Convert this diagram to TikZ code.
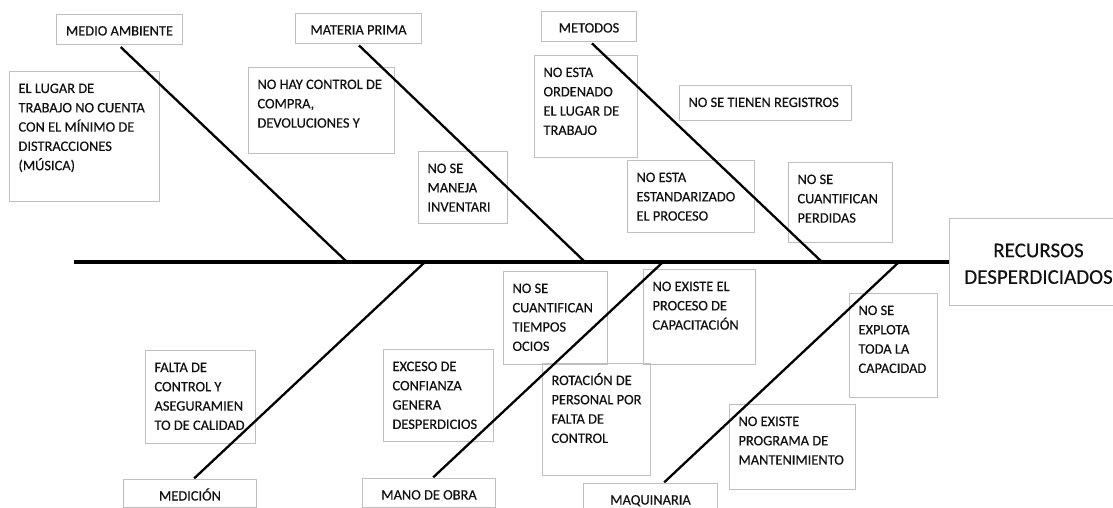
\documentclass[tikz,border=0pt]{standalone}
\usepackage{fontspec}
\setmainfont{Carlito}[FakeBold=0.35]
\definecolor{framegray}{HTML}{BFBFBF}
\definecolor{inkblack}{HTML}{111111}

% box text: about 14pt with wide line spacing
\newcommand\smallfont{\fontsize{14.4}{19.3}\selectfont}
\newcommand\bigfont{\fontsize{21}{26.6}\selectfont}

\tikzset{
  framed/.style={draw=framegray, line width=1pt, anchor=north west, inner sep=0pt, text=inkblack},
  bone/.style={line width=2.3pt, draw=black},
  spine/.style={line width=4pt, draw=black}
}

% cause box: name, x, y (top-left), width, height, text
\newcommand\causebox[6]{%
  \node[framed, font=\smallfont] (#1) at (#2,#3)
    {\parbox[t][#5pt][t]{#4pt}{\raggedright\leftskip=9pt\rule{0pt}{21.5pt}#6\par}};}
% category box: name, x, y (top-left), width, height, text
\newcommand\catbox[6]{%
  \node[framed, font=\smallfont] (#1) at (#2,#3)
    {\parbox[t][#5pt][t]{#4pt}{\centering\rule{0pt}{21pt}#6\par}};}

\begin{document}
\begin{tikzpicture}[x=1pt, y=-1pt]
\clip (0,0) rectangle (1113,508);
\fill[white] (0,0) rectangle (1113,508);

% categories
\catbox{amb}{56}{14}{126}{30}{MEDIO AMBIENTE}
\catbox{mat}{295}{13}{126}{30}{MATERIA PRIMA}
\catbox{met}{541}{11}{95}{30}{METODOS}
\catbox{med}{123}{479}{133}{28}{MEDICIÓN}
\catbox{obr}{362}{478}{133}{29}{MANO DE OBRA}
\catbox{maq}{583}{483}{134}{30}{MAQUINARIA}

% effect
\node[framed, font=\bigfont] (eff) at (949,218)
  {\parbox[t][87pt][t]{178pt}{\centering\rule{0pt}{38.7pt}RECURSOS\\DESPERDICIADOS\par}};

% causes above the spine
\causebox{c1}{9}{71}{150}{130}{EL LUGAR DE\\TRABAJO NO CUENTA\\CON EL MÍNIMO DE\\DISTRACCIONES\\(MÚSICA)}
\causebox{c2}{248}{67}{146}{86}{NO HAY CONTROL DE\\COMPRA,\\DEVOLUCIONES Y}
\causebox{c3}{418}{151}{89}{72}{NO SE\\MANEJA\\INVENTARI}
\causebox{c4}{534}{55}{103}{102}{NO ESTA\\ORDENADO\\EL LUGAR DE\\TRABAJO}
\causebox{c5}{679}{85}{172}{35}{NO SE TIENEN REGISTROS}
\causebox{c6}{627}{160}{127}{72}{NO ESTA\\ESTANDARIZADO\\EL PROCESO}
\causebox{c7}{788}{162}{104}{80}{NO SE\\CUANTIFICAN\\PERDIDAS}

% causes below the spine
\causebox{c8}{145}{350}{110}{93}{FALTA DE\\CONTROL Y\\ASEGURAMIEN\\TO DE CALIDAD}
\causebox{c9}{383}{349}{110}{92}{EXCESO DE\\CONFIANZA\\GENERA\\DESPERDICIOS}
\causebox{c10}{503}{271}{104}{93}{NO SE\\CUANTIFICAN\\TIEMPOS\\OCIOS}
\causebox{c11}{542}{363}{108}{112}{ROTACIÓN DE\\PERSONAL POR\\FALTA DE\\CONTROL}
\causebox{c12}{643}{269}{112}{95}{NO EXISTE EL\\PROCESO DE\\CAPACITACIÓN}
\causebox{c13}{849}{293}{88}{104}{NO SE\\EXPLOTA\\TODA LA\\CAPACIDAD}
\causebox{c14}{729}{404}{126}{85}{NO EXISTE\\PROGRAMA DE\\MANTENIMIENTO}

% spine and where the bones meet it
\coordinate (tail) at (74,262);
\coordinate (amb-root) at (347,262);
\coordinate (mat-root) at (585,262);
\coordinate (met-root) at (822,262);
\coordinate (med-root) at (425,262);
\coordinate (obr-root) at (663,262);
\coordinate (maq-root) at (899,262);

\draw[spine] (tail) -- (eff.west);

% bones
\draw[bone, shorten <=3pt] ([xshift=-1pt]amb.south) -- (amb-root);
\draw[bone, shorten <=2pt] ([xshift=-1pt]mat.south) -- (mat-root);
\draw[bone, shorten <=2pt] ([xshift=1.5pt]met.south) -- (met-root);
\draw[bone, shorten <=1pt] ([xshift=3.5pt]med.north) -- (med-root);
\draw[bone, shorten <=1pt] ([xshift=3.5pt]obr.north) -- (obr-root);
\draw[bone, shorten <=1pt] ([xshift=13pt]maq.north) -- (maq-root);
\end{tikzpicture}
\end{document}
